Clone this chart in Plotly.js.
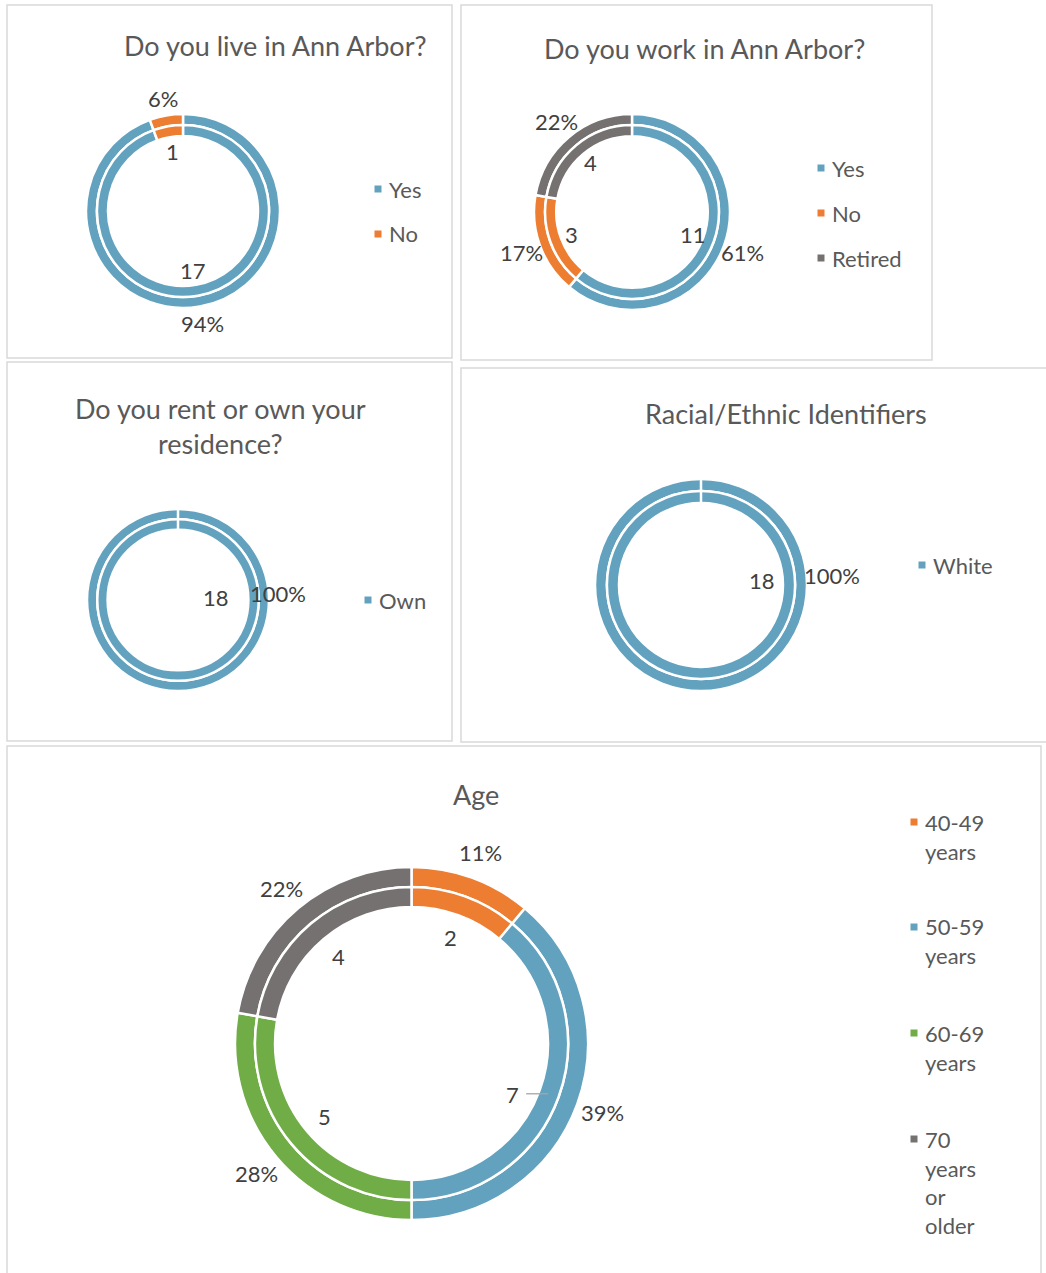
<!DOCTYPE html>
<html><head><meta charset="utf-8">
<script src="https://cdn.plot.ly/plotly-3.0.1.min.js"></script>
<style>html,body{margin:0;padding:0;background:#fff}#chart{width:1046px;height:1273px}</style>
</head><body><div id="chart"></div>
<script>
// ---------- DATA ----------
const liveLabels = ['Yes', 'No'];
const liveValues = [17, 1];
const workLabels = ['Yes', 'No', 'Retired'];
const workValues = [11, 3, 4];
const ownLabels = ['Own'];
const ownValues = [18];
const raceLabels = ['White'];
const raceValues = [18];
const ageLabels = ['40-49 years', '50-59 years', '60-69 years', '70 years or older'];
const ageValues = [2, 7, 5, 4];
const titles = ['Do you live in Ann Arbor?', 'Do you work in Ann Arbor?', 'Do you rent or own your<br>residence?', 'Racial/Ethnic Identifiers', 'Age'];

// ---------- STYLE / LAYOUT ----------
const W = 1046, H = 1273;
const BLUE = '#62A2BF', ORANGE = '#ED7D31', GRAY = '#767171', GREEN = '#70AD47';
const FONT = 'Lato, "Open Sans", sans-serif';
const TITLE_C = '#595959', LABEL_C = '#404040', LEG_C = '#595959';
const TITLE_SIZE = 27, LABEL_SIZE = 22, LEG_SIZE = 22;

const charts = [
  {labels: liveLabels, values: liveValues, colors: [BLUE, ORANGE], cx: 183, cy: 211, R: 97, inR: 0.62, outR: 1.18,
   title: titles[0], tx: 275, ty: 45, legX: 378, legY: [189, 234], legText: liveLabels},
  {labels: workLabels, values: workValues, colors: [BLUE, ORANGE, GRAY], cx: 632, cy: 212, R: 98, inR: 0.66, outR: 1.2,
   title: titles[1], tx: 704, ty: 48, legX: 821, legY: [168, 213, 258], legText: workLabels},
  {labels: ownLabels, values: ownValues, colors: [BLUE], cx: 178, cy: 600, R: 91, inR: 0.42, outR: 1.1,
   title: titles[2], tx: 220, ty: 426, legX: 368, legY: [600], legText: ownLabels},
  {labels: raceLabels, values: raceValues, colors: [BLUE], cx: 701, cy: 585, R: 106, inR: 0.58, outR: 1.24,
   title: titles[3], tx: 786, ty: 414, legX: 922, legY: [565], legText: raceLabels},
  {labels: ageLabels, values: ageValues, colors: [ORANGE, BLUE, GREEN, GRAY], cx: 411.5, cy: 1043.5, R: 176.5, inR: 0.64, outR: 1.15,
   title: titles[4], tx: 476, ty: 794, legX: 914, legY: [822, 927, 1033, 1139], legText: ageLabels.map(s => s.split(' ').join('<br>')),
   leader: 1, leaderShift: 7}
];

const OUT_HOLE = 0.887, IN_OUTER = 0.887, IN_HOLE = 0.773;

const data = [];
const annotations = [];
const shapes = [];

function px(x) { return x / W; }
function py(y) { return 1 - y / H; }

charts.forEach(c => {
  [true, false].forEach(outer => {
    const Rr = outer ? c.R : c.R * IN_OUTER;
    const hole = outer ? OUT_HOLE : IN_HOLE / IN_OUTER;
    data.push({
      type: 'pie', values: c.values, labels: c.labels, sort: false, direction: 'clockwise', rotation: 0,
      hole: hole, textinfo: 'none', hoverinfo: 'none', showlegend: false,
      marker: {colors: c.colors, line: {color: '#ffffff', width: 2.5}},
      domain: {x: [px(c.cx - Rr), px(c.cx + Rr)], y: [py(c.cy + Rr), py(c.cy - Rr)]}
    });
  });
  // single-slice: white seam at 12 o'clock like the reference
  if (c.values.length === 1) {
    shapes.push({type: 'line', xref: 'paper', yref: 'paper', x0: px(c.cx), x1: px(c.cx),
      y0: py(c.cy - c.R - 1), y1: py(c.cy - c.R * IN_HOLE + 1), line: {color: '#ffffff', width: 2.5}});
  }
  // data labels, positioned from slice mid-angles
  const total = c.values.reduce((a, b) => a + b, 0);
  let cum = 0;
  c.values.forEach((v, i) => {
    let mid = (cum + v / 2) / total * 360; cum += v;
    if (c.values.length === 1) mid = 86;
    const a = mid * Math.PI / 180;
    const ai = (c.leader === i ? mid + c.leaderShift : mid) * Math.PI / 180;
    const ri = c.R * c.inR, ro = c.R * c.outR;
    const xi = c.cx + ri * Math.sin(ai), yi = c.cy - ri * Math.cos(ai);
    const xo = c.cx + ro * Math.sin(a), yo = c.cy - ro * Math.cos(a);
    const pct = Math.round(v / total * 100) + '%';
    const f = {family: FONT, size: LABEL_SIZE, color: LABEL_C};
    annotations.push({xref: 'paper', yref: 'paper', x: px(xi), y: py(yi), text: String(v), showarrow: false,
      xanchor: 'center', yanchor: 'middle', font: f});
    if (c.leader === i) {
      shapes.push({type: 'line', xref: 'paper', yref: 'paper', x0: px(xi + 14), x1: px(xi + 36),
        y0: py(yi - 1), y1: py(yi - 1), line: {color: '#a6a6a6', width: 1.3}});
    }
    annotations.push({xref: 'paper', yref: 'paper', x: px(xo), y: py(yo), text: pct, showarrow: false,
      xanchor: 'center', yanchor: 'middle', font: f});
  });
  // title
  annotations.push({xref: 'paper', yref: 'paper', x: px(c.tx), y: py(c.ty), text: c.title, showarrow: false,
    xanchor: 'center', yanchor: 'middle', align: 'center', font: {family: FONT, size: TITLE_SIZE, color: TITLE_C}});
  // legend
  c.legText.forEach((t, i) => {
    const y = c.legY[i];
    shapes.push({type: 'rect', xref: 'paper', yref: 'paper', x0: px(c.legX - 3.5), x1: px(c.legX + 3.5),
      y0: py(y + 3.5), y1: py(y - 3.5), fillcolor: c.colors[i], line: {width: 0}});
    annotations.push({xref: 'paper', yref: 'paper', x: px(c.legX + 9), y: py(y - 15.5), text: t, showarrow: false,
      xanchor: 'left', yanchor: 'top', align: 'left', font: {family: FONT, size: LEG_SIZE, color: LEG_C}});
  });
});

// panel borders
const panels = [[7, 5, 452, 358], [461, 5, 932, 360], [7, 362, 452, 741], [461, 368, 1060, 742], [7, 746, 1041, 1290]];
panels.forEach(p => shapes.push({type: 'rect', xref: 'paper', yref: 'paper', x0: px(p[0]), x1: px(p[2]),
  y0: py(p[3]), y1: py(p[1]), line: {color: '#d9d9d9', width: 1.5}, fillcolor: 'rgba(0,0,0,0)', layer: 'below'}));

const layout = {
  width: W, height: H, margin: {l: 0, r: 0, t: 0, b: 0}, paper_bgcolor: '#ffffff',
  showlegend: false, annotations: annotations, shapes: shapes, font: {family: FONT}
};
Plotly.newPlot('chart', data, layout, {staticPlot: true, displayModeBar: false});
</script>
</body></html>
